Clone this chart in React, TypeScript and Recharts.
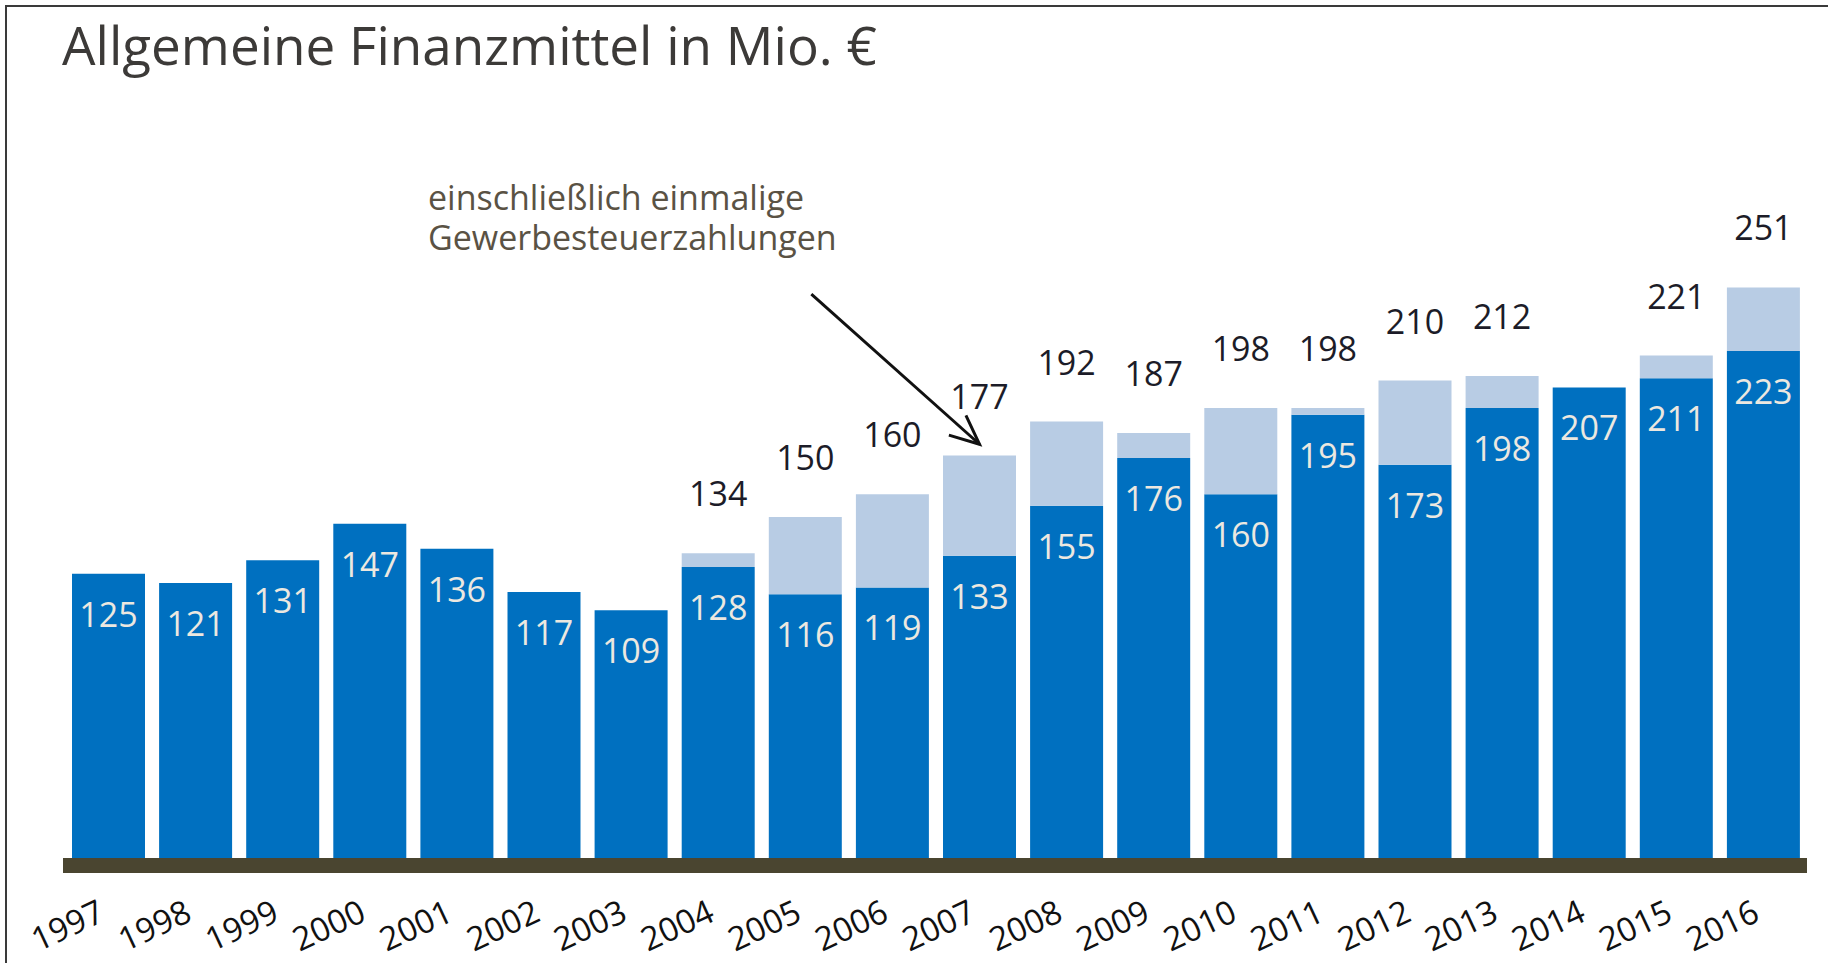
import { BarChart, Bar, XAxis, YAxis, LabelList, ReferenceLine } from 'recharts';

const YEARS = [
  '1997', '1998', '1999', '2000', '2001', '2002', '2003', '2004', '2005', '2006',
  '2007', '2008', '2009', '2010', '2011', '2012', '2013', '2014', '2015', '2016',
];
// ohne einmalige Gewerbesteuerzahlungen
const BASE = [125, 121, 131, 147, 136, 117, 109, 128, 116, 119, 133, 155, 176, 160, 195, 173, 198, 207, 211, 223];
// einschließlich einmaliger Gewerbesteuerzahlungen
const TOTAL = [125, 121, 131, 147, 136, 117, 109, 134, 150, 160, 177, 192, 187, 198, 198, 210, 212, 207, 221, 251];

const NOTE_LINES = ['einschließlich einmalige', 'Gewerbesteuerzahlungen'];

const data = YEARS.map((year, i) => ({
  year,
  base: BASE[i],
  extra: TOTAL[i] - BASE[i],
  total: TOTAL[i],
}));

const DARK_BLUE = '#0070c0';
const LIGHT_BLUE = '#b8cce4';
const FONT = '"Open Sans", sans-serif';

function InnerLabel(props: any) {
  const { x, y, width, value } = props;
  return (
    <text x={x + width / 2} y={y + 53} textAnchor="middle" fill="#ece8e0" fontSize={34} fontFamily={FONT}>
      {value}
    </text>
  );
}

// zero-height segments get no label; value is the total of the stack
function TotalLabel(props: any) {
  const { x, y, width, height, value } = props;
  if (!height || height <= 0) return null;
  return (
    <text x={x + width / 2} y={y - 47} textAnchor="middle" fill="#1c1c28" fontSize={34} fontFamily={FONT}>
      {value}
    </text>
  );
}

function YearTick(props: any) {
  const { x, y, payload } = props;
  const ax = x - 2;
  const ay = y + 62;
  return (
    <text
      x={ax}
      y={ay}
      textAnchor="end"
      fill="#111"
      fontSize={33}
      fontFamily={FONT}
      transform={`rotate(-25, ${ax}, ${ay})`}
    >
      {payload.value}
    </text>
  );
}

function Arrow(props: any) {
  const { x1, y1, x2, y2 } = props;
  const ang = Math.atan2(y2 - y1, x2 - x1);
  const len = 32;
  const spread = 0.42;
  const a = [x2 - len * Math.cos(ang - spread), y2 - len * Math.sin(ang - spread)];
  const b = [x2 - len * Math.cos(ang + spread), y2 - len * Math.sin(ang + spread)];
  return (
    <g>
      <line x1={x1 + 6} y1={y1} x2={x2} y2={y2} stroke="#111" strokeWidth={3} />
      <polyline
        points={`${a[0]},${a[1]} ${x2},${y2} ${b[0]},${b[1]}`}
        fill="none"
        stroke="#111"
        strokeWidth={3}
      />
    </g>
  );
}

export default function App() {
  return (
    <div style={{ position: 'absolute', left: 0, top: 0, width: 1828, height: 963, background: '#fff' }}>
      <div
        style={{
          position: 'absolute',
          left: 5,
          top: 5,
          width: 1823,
          height: 958,
          borderTop: '2px solid #3a3a3a',
          borderLeft: '2px solid #3a3a3a',
          boxSizing: 'border-box',
        }}
      />
      <div
        style={{
          position: 'absolute',
          left: 62,
          top: 18,
          fontFamily: FONT,
          fontSize: 53,
          lineHeight: '53px',
          color: '#3c3a38',
          whiteSpace: 'nowrap',
        }}
      >
        Allgemeine Finanzmittel in Mio. €
      </div>
      {NOTE_LINES.map((line, i) => (
        <div
          key={line}
          style={{
            position: 'absolute',
            left: 428,
            top: 178 + i * 40,
            fontFamily: FONT,
            fontSize: 34,
            lineHeight: '38px',
            color: '#5a5244',
            whiteSpace: 'nowrap',
          }}
        >
          {line}
        </div>
      ))}
      <div style={{ position: 'absolute', left: 0, top: 0 }}>
        <BarChart width={1828} height={963} data={data} margin={{ top: 176, right: 21, bottom: 5, left: 63 }}>
          <XAxis
            dataKey="year"
            interval={0}
            height={100}
            tickLine={false}
            tickSize={0}
            tickMargin={0}
            padding={{ left: 2, right: 0 }}
            axisLine={{ stroke: '#4a4530', strokeWidth: 15, transform: 'translate(0, 7.5)' }}
            tick={<YearTick />}
          />
          <YAxis hide domain={[0, 300]} />
          <Bar dataKey="base" stackId="a" fill={DARK_BLUE} barSize={73} isAnimationActive={false}>
            <LabelList dataKey="base" content={<InnerLabel />} />
          </Bar>
          <Bar dataKey="extra" stackId="a" fill={LIGHT_BLUE} barSize={73} isAnimationActive={false}>
            <LabelList dataKey="total" content={<TotalLabel />} />
          </Bar>
          <ReferenceLine
            segment={[
              { x: '2005', y: 248 },
              { x: '2007', y: 182 },
            ]}
            shape={<Arrow />}
          />
        </BarChart>
      </div>
    </div>
  );
}
